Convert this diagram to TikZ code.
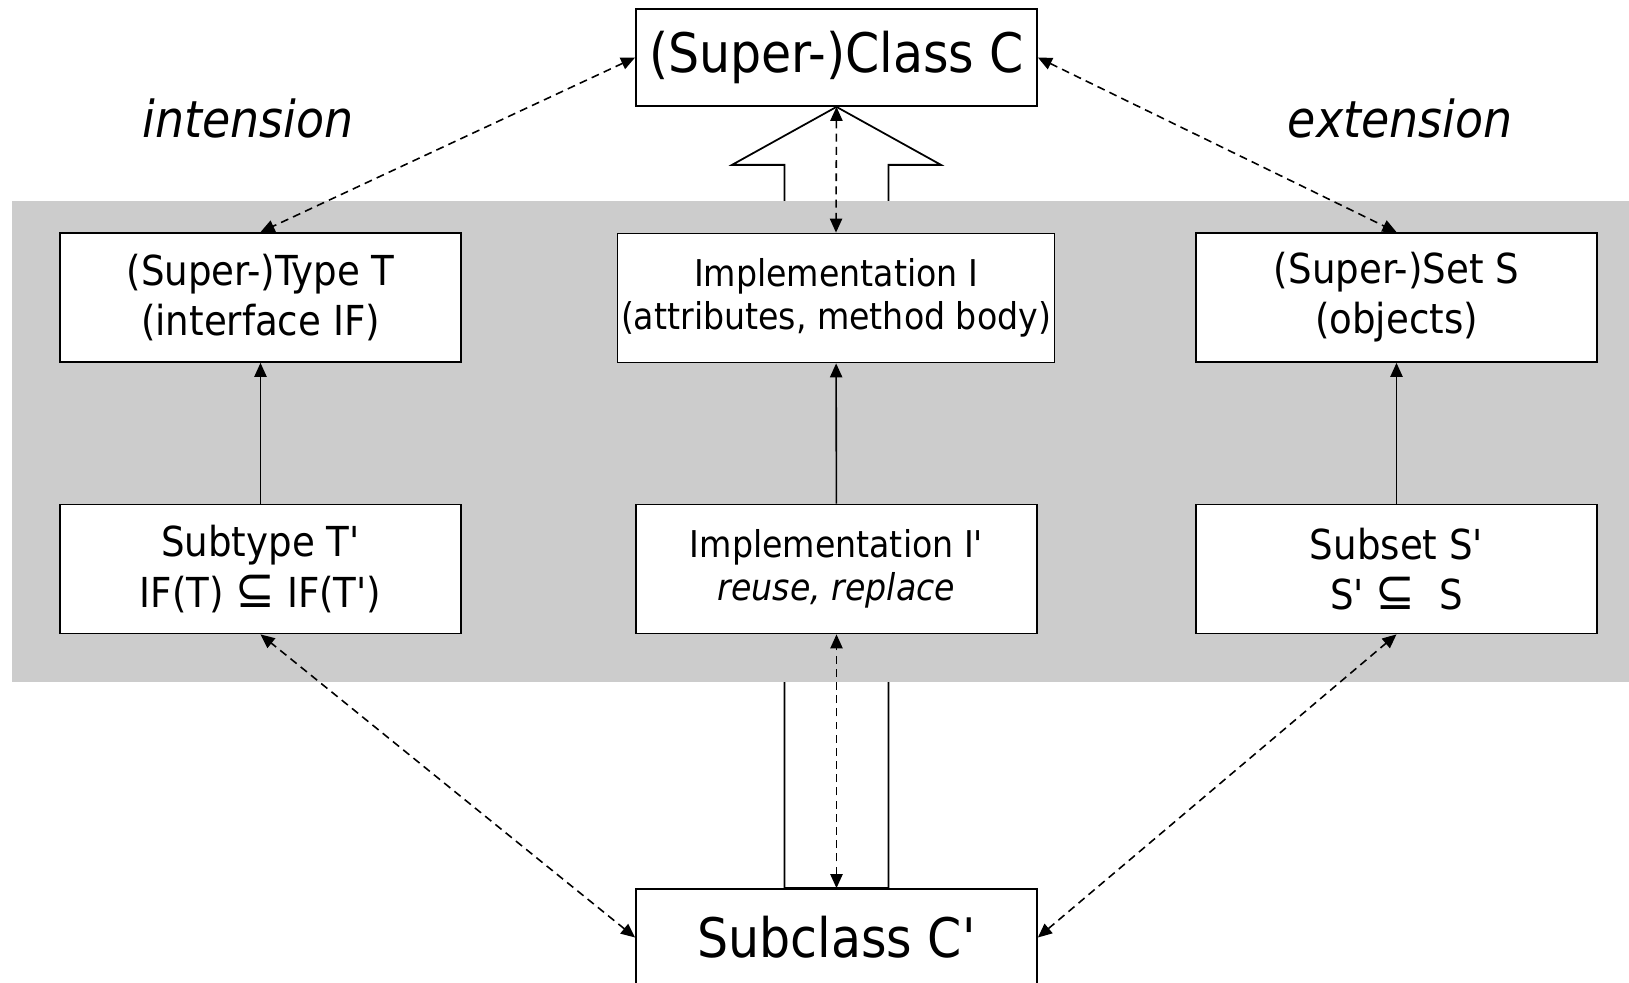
\documentclass[tikz,border=0pt]{standalone}
\usepackage{fontspec}
\setmainfont{DejaVu Sans Condensed}
\usetikzlibrary{arrows.meta,calc}
\newcommand{\prm}{\textquotesingle}
\newcommand{\subeq}{{\fontsize{30}{30}\selectfont ⊆}}
\definecolor{bandgray}{RGB}{204,204,204}
\tikzset{
  box/.style={draw, fill=white, line width=1pt, align=center, inner sep=2pt},
  classbox/.style={box, minimum width=8.02cm, minimum height=1.94cm, font=\fontsize{31}{37}\selectfont},
  partbox/.style={box, minimum width=8.02cm, minimum height=2.58cm, font=\fontsize{23.5}{28.5}\selectfont},
  implbox/.style={box, minimum height=2.58cm, font=\fontsize{21}{24.5}\selectfont},
  aspect/.style={font=\fontsize{29}{34}\selectfont\itshape},
  link/.style={line width=0.9pt, dash pattern=on 4.5pt off 3pt, {Triangle[length=8pt,width=7pt]}-{Triangle[length=8pt,width=7pt]}},
  inherit/.style={line width=0.9pt, -{Triangle[length=8pt,width=7pt]}},
  hollow/.style={line width=1pt, fill=white}
}
\begin{document}
\begin{tikzpicture}
    \useasboundingbox (0,0) rectangle (32.58,-19.66);

    % classes
    \node[classbox] (C) at (16.73,-1.15) {(Super-)Class C};
    \node[classbox] (Cs) at (16.73,-18.75) {Subclass C\prm};

    % big inheritance arrow, behind the band
    \draw[hollow] (C.south) -- ++(2.09,-1.16) -- ++(-1.05,0)
        -- ($(Cs.north)+(1.04,0)$) -- ($(Cs.north)+(-1.04,0)$)
        -- ($(C.south)+(-1.04,-1.16)$) -- ++(-1.05,0) -- cycle;

    \fill[bandgray] (0.24,-4.02) rectangle (32.6,-13.64);

    \node[aspect] (intens) at (4.96,-2.38) {intension};
    \node[aspect] (extens) at (28.0,-2.38) {extension};

    % three views
    \node[partbox] (T) at (5.21,-5.95) {(Super-)Type T\\(interface IF)};
    \node[implbox, minimum width=8.64cm] (I) at (16.72,-5.96) {Implementation I\\(attributes, method body)};
    \node[partbox] (S) at (27.93,-5.95) {(Super-)Set S\\(objects)};

    \node[partbox] (Tp) at (5.21,-11.38) {Subtype T\prm\\IF(T) \subeq{} IF(T\prm)};
    \node[implbox, minimum width=8.02cm] (Ip) at (16.73,-11.38) {Implementation I\prm\\\textit{reuse, replace}};
    \node[partbox] (Sp) at (27.93,-11.38) {Subset S\prm\\S\prm~\subeq~~S};

    \draw[inherit] (Tp) -- (T);
    \draw[inherit] (Ip) -- (I);
    \draw[inherit] (Sp) -- (S);

    \draw[link] (C.west) -- (T.north);
    \draw[link] (C.south) -- (I.north);
    \draw[link] (C.east) -- (S.north);
    \draw[link] (Cs.west) -- (Tp.south);
    \draw[link] (Cs.north) -- (Ip.south);
    \draw[link] (Cs.east) -- (Sp.south);
\end{tikzpicture}
\end{document}
